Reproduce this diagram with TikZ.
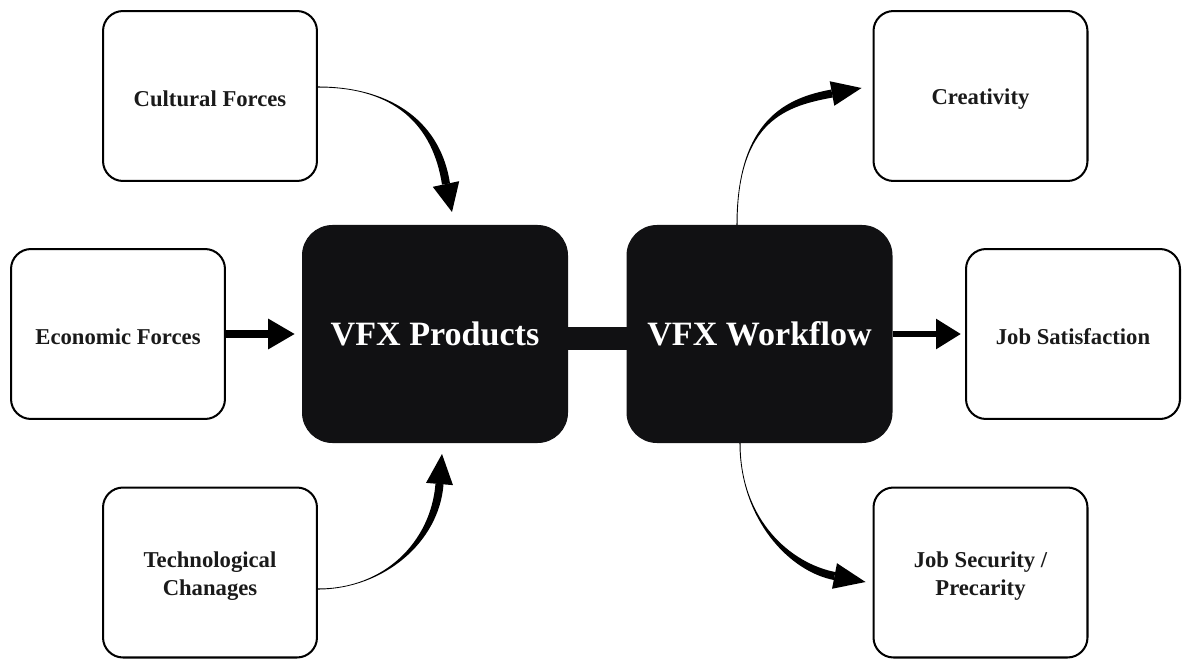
\documentclass[tikz,border=0pt]{standalone}
\usepackage{fontspec}
\setmainfont{Liberation Serif}
\usetikzlibrary{calc,arrows.meta}
\definecolor{ink}{HTML}{1A1A1A}
\definecolor{boxblack}{HTML}{111113}
\tikzset{
  factor/.style={draw=black, line width=1.15pt, rounded corners=0.4cm,
    minimum width=4.28cm, minimum height=3.4cm, align=center, text=ink,
    inner sep=0pt, font=\fontsize{12.9}{15.9}\selectfont\bfseries,
    execute at begin node={\rule{0pt}{12pt}}},
  twoline/.style={execute at begin node={\rule{0pt}{29pt}}},
  core/.style={draw=boxblack, fill=boxblack, line width=0.6pt, rounded corners=0.6cm,
    minimum width=5.3cm, minimum height=4.34cm, text=white, inner sep=0pt,
    font=\fontsize{19.4}{23}\selectfont\bfseries},
  straightarrow/.style={draw=black, line width=#1},
}
% Tapered curved connector: start S, controls C1 C2, head base E, tip T, head half-width
\newcommand\taperarrow[6]{%
  \fill[black] ($(#1)!0.3pt!-90:(#2)$) .. controls (#2) and ($(#3)!2.3pt!-90:(#4)$) .. ($(#4)!2.3pt!90:(#3)$)
     -- ($(#4)!2.3pt!-90:(#3)$) .. controls ($(#3)!2.3pt!90:(#4)$) and (#2) .. ($(#1)!0.3pt!90:(#2)$) -- cycle;
  \fill[black] ($(#4)!#6!90:(#5)$) -- (#5) -- ($(#4)!#6!-90:(#5)$) -- cycle;
}
\begin{document}
\begin{tikzpicture}[x=0.02cm, y=-0.02cm]
\useasboundingbox (0,0) rectangle (1187,659);

% input factors
\node[factor] (cult) at (210,96)    {Cultural Forces};
\node[factor] (econ) at (118,334)   {Economic Forces};
\node[factor, twoline] (tech) at (210,572.5) {Technological\\Chanages};

% core blocks
\node[core] (prod) at (435,334)   {VFX Products};
\node[core] (flow) at (759.5,334) {VFX Workflow};

% outcomes
\node[factor] (creat) at (980.5,96)    {Creativity};
\node[factor] (sat)   at (1073,334)    {Job Satisfaction};
\node[factor, twoline] (secu)  at (980.5,572.5) {Job Security /\\Precarity};

% link between the two core blocks
\draw[line width=13pt, boxblack] ($(prod.east)+(-2,4.5)$) -- ($(flow.west)+(2,4.5)$);

% straight arrows
\draw[straightarrow=4pt, -{Triangle[length=15.3pt,width=16.4pt]}]
  (econ.east) -- ($(prod.west)+(-7,0)$);
\draw[straightarrow=3.4pt, -{Triangle[length=14.2pt,width=16.4pt]}]
  (flow.east) -- ($(sat.west)+(-4,0)$);

% curved arrow: cultural forces -> products
\coordinate (cS)  at ($(cult.east)+(0,-9)$);
\coordinate (cT)  at ($(prod.north)+(17,-13)$);
\coordinate (cE)  at ($(cT)+(-6,-28)$);
\coordinate (cC1) at ($(cS)+(77,0)$);
\coordinate (cC2) at ($(cE)+(-9,-59)$);
\taperarrow{cS}{cC1}{cC2}{cE}{cT}{7.7pt}

% curved arrow: technological changes -> products
\coordinate (tS)  at ($(tech.east)+(0,16.5)$);
\coordinate (tT)  at ($(prod.south)+(7,11)$);
\coordinate (tE)  at ($(tT)+(-2.5,30)$);
\coordinate (tC1) at ($(tS)+(66,0)$);
\coordinate (tC2) at ($(tE)+(-4.5,58)$);
\taperarrow{tS}{tC1}{tC2}{tE}{tT}{7.7pt}

% curved arrow: workflow -> creativity
\coordinate (rS)  at ($(flow.north)+(-22.5,0)$);
\coordinate (rT)  at ($(creat.west)+(-11,-8)$);
\coordinate (rE)  at ($(rT)+(-29.5,5.5)$);
\coordinate (rC1) at ($(rS)+(0,-106)$);
\coordinate (rC2) at ($(rE)+(-44.2,8.2)$);
\taperarrow{rS}{rC1}{rC2}{rE}{rT}{7.1pt}

% curved arrow: workflow -> job security
\coordinate (sS)  at ($(flow.south)+(-19.5,0)$);
\coordinate (sT)  at ($(secu.west)+(-7,9.5)$);
\coordinate (sE)  at ($(sT)+(-31,-6)$);
\coordinate (sC1) at ($(sS)+(0,77)$);
\coordinate (sC2) at ($(sE)+(-44.2,-8.5)$);
\taperarrow{sS}{sC1}{sC2}{sE}{sT}{7.4pt}
\end{tikzpicture}
\end{document}
